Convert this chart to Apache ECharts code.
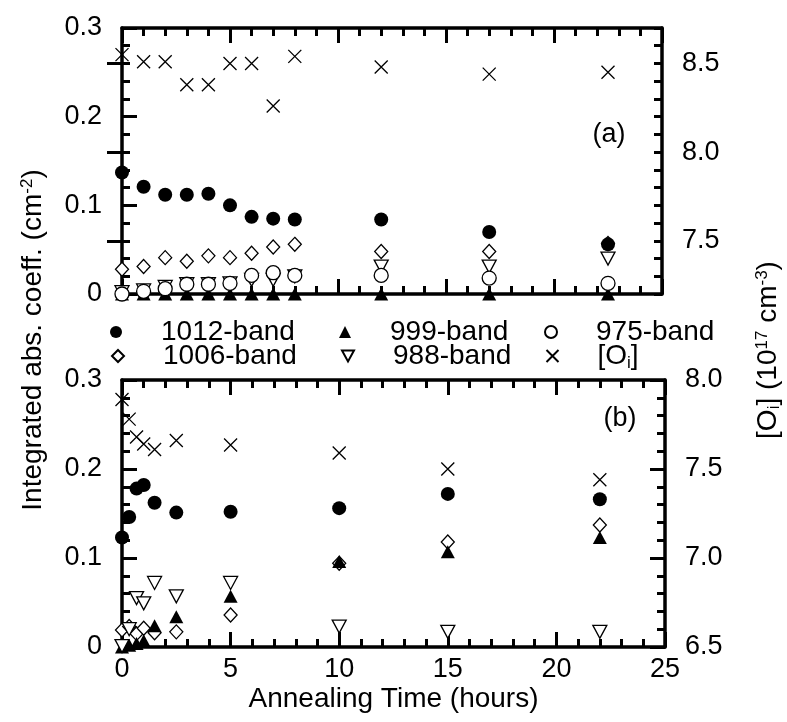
<!DOCTYPE html>
<html>
<head>
<meta charset="utf-8">
<script src="https://cdn.jsdelivr.net/npm/echarts@6/dist/echarts.min.js"></script>
<style>
  html, body { margin: 0; padding: 0; background: #fff; }
  #chart { width: 787px; height: 722px; }
</style>
</head>
<body>
<div id="chart"></div>
<script>
// panel (a): annealing times and values
const hoursA = [0, 1, 2, 3, 4, 5, 6, 7, 8, 12, 17, 22.5];
const band1012A = [0.137, 0.121, 0.112, 0.112, 0.113, 0.100, 0.087, 0.085, 0.084, 0.084, 0.070, 0.056];
const band1006A = [0.028, 0.031, 0.041, 0.037, 0.043, 0.041, 0.046, 0.053, 0.056, 0.048, 0.048, 0.057];
const band999A  = [0, 0, 0, 0, 0, 0, 0, 0, 0, 0, 0, 0];
const band988A  = [0.002, 0.004, 0.008, 0.011, 0.011, 0.012, 0.016, 0.016, 0.020, 0.031, 0.031, 0.040];
const band975A  = [0.000, 0.003, 0.006, 0.011, 0.011, 0.012, 0.021, 0.024, 0.021, 0.021, 0.018, 0.012];
const oiA       = [8.55, 8.51, 8.51, 8.38, 8.38, 8.50, 8.50, 8.26, 8.54, 8.48, 8.44, 8.45];

// panel (b)
const hoursB = [0, 0.33, 0.67, 1, 1.5, 2.5, 5, 10, 15, 22];
const band1012B = [0.123, 0.146, 0.178, 0.182, 0.162, 0.151, 0.152, 0.156, 0.172, 0.166];
const band1006B = [0.019, 0.023, 0.015, 0.021, 0.016, 0.017, 0.036, 0.094, 0.118, 0.137];
const band999B  = [0.000, 0.002, 0.004, 0.007, 0.024, 0.034, 0.057, 0.096, 0.107, 0.123];
const band988B  = [0.001, 0.020, 0.055, 0.049, 0.072, 0.057, 0.072, 0.023, 0.017, 0.017];
const oiB       = [7.89, 7.78, 7.68, 7.64, 7.61, 7.66, 7.635, 7.59, 7.50, 7.44];

// tick labels
const xTicks = [0, 5, 10, 15, 20, 25];
const rightMajorA = [7.5, 8.0, 8.5];

const FONT = "'Liberation Sans', Arial, sans-serif";
const BLACK = '#000';

// marker looks, one per series name
const looks = {
    '1012-band': { symbol: 'circle', symbolSize: 14, itemStyle: { color: BLACK, opacity: 1 } },
    '1006-band': { symbol: 'diamond', symbolSize: [13, 14], itemStyle: { color: '#fff', borderColor: BLACK, borderWidth: 1.3, opacity: 1 } },
    '999-band':  { symbol: 'triangle', symbolSize: [14, 13], itemStyle: { color: BLACK, opacity: 1 } },
    '988-band':  { symbol: 'path://M0,0L12,0L6,11Z', symbolSize: [14, 13], itemStyle: { color: '#fff', borderColor: BLACK, borderWidth: 1.3, opacity: 1 } },
    '975-band':  { symbol: 'circle', symbolSize: 14, itemStyle: { color: '#fff', borderColor: BLACK, borderWidth: 1.3, opacity: 1 } },
    '[Oi]':      { symbol: 'path://M0,0L10,10M10,0L0,10', symbolSize: 13, itemStyle: { color: 'none', borderColor: BLACK, borderWidth: 1.3, opacity: 1 } }
};

function pairs(xs, ys) {
    return xs.map((x, i) => [x, ys[i]]);
}

function scatter(name, xs, ys, xIdx, yIdx) {
    let look = looks[name];
    return {
        type: 'scatter',
        name: name,
        xAxisIndex: xIdx,
        yAxisIndex: yIdx,
        symbol: look.symbol,
        symbolSize: look.symbolSize,
        itemStyle: look.itemStyle,
        clip: false,
        silent: true,
        data: pairs(xs, ys)
    };
}

let lineStyle = { color: BLACK, width: 3.5 };
let tickStyle = { color: BLACK, width: 3 };

function xAxis(gridIndex, position, showLabel) {
    return {
        type: 'value', gridIndex: gridIndex, position: position,
        min: 0, max: 25, interval: 5,
        axisLine: { show: true, onZero: false, lineStyle: lineStyle },
        axisTick: { show: true, inside: true, length: 15, lineStyle: tickStyle },
        minorTick: { show: true, splitNumber: 5, length: 8, lineStyle: tickStyle },
        splitLine: { show: false },
        axisLabel: { show: showLabel, fontSize: 27, fontFamily: FONT, color: BLACK, margin: 9,
            customValues: xTicks },
        name: showLabel ? 'Annealing Time (hours)' : '',
        nameLocation: 'middle', nameGap: 38,
        nameTextStyle: { fontSize: 28, fontFamily: FONT, color: BLACK }
    };
}

function yAxis(gridIndex, position, min, max, interval, opts) {
    let ax = {
        type: 'value', gridIndex: gridIndex, position: position,
        min: min, max: max, interval: interval,
        axisLine: { show: true, onZero: false, lineStyle: lineStyle },
        axisTick: { show: true, inside: true, length: 15, lineStyle: tickStyle },
        minorTick: { show: true, splitNumber: 5, length: 8, lineStyle: tickStyle },
        splitLine: { show: false },
        axisLabel: { show: true, fontSize: 27, fontFamily: FONT, color: BLACK, margin: 20,
            formatter: v => (v === 0 ? '0' : v.toFixed(1)) }
    };
    return Object.assign(ax, opts || {});
}

// legend entries: one small legend each
const legendNames = ['1012-band', '999-band', '975-band', '1006-band', '988-band', '[Oi]'];
const legendLeft = [105, 334, 539, 106, 336, 539];
const legendTop = [313, 313, 313, 337, 337, 337];

let legends = legendNames.map((n, i) => ({
    data: [n],
    left: legendLeft[i], top: legendTop[i],
    itemWidth: 12, itemHeight: 12,
    selectedMode: false,
    formatter: name => (name === '[Oi]' ? '{t|[O}{s|i}{t|]}' : '{t|' + name + '}'),
    textStyle: {
        color: BLACK, fontFamily: FONT, fontSize: 28, padding: [0, 0, 0, 34],
        rich: {
            t: { fontSize: 28, fontFamily: FONT, color: BLACK },
            s: { fontSize: 17, fontFamily: FONT, color: BLACK, verticalAlign: 'bottom', padding: [14, 0, 0, 0] }
        }
    }
}));

let option = {
    animation: false,
    backgroundColor: '#fff',
    textStyle: { fontFamily: FONT },
    grid: [
        { left: 122, top: 28, width: 540, height: 266 },
        { left: 122, top: 380, width: 543, height: 267 }
    ],
    xAxis: [
        xAxis(0, 'bottom', false),
        xAxis(0, 'top', false),
        xAxis(1, 'bottom', true),
        xAxis(1, 'top', false)
    ],
    yAxis: [
        yAxis(0, 'left', 0, 0.3, 0.1),
        // right side of (a): minor ticks every 0.1
        yAxis(0, 'right', 7.2, 8.7, 0.1, {
            axisTick: { show: true, inside: true, length: 8, lineStyle: tickStyle },
            minorTick: { show: false },
            axisLabel: { show: false }
        }),
        // right side of (a): major ticks + labels
        yAxis(0, 'right', 7.2, 8.7, 0.1, {
            axisLine: { show: false },
            axisTick: { show: true, inside: true, length: 15, lineStyle: tickStyle, customValues: rightMajorA },
            minorTick: { show: false },
            axisLabel: { show: true, fontSize: 27, fontFamily: FONT, color: BLACK, margin: 20,
                customValues: rightMajorA, formatter: v => v.toFixed(1) }
        }),
        yAxis(1, 'left', 0, 0.3, 0.1),
        yAxis(1, 'right', 6.5, 8.0, 0.5)
    ],
    legend: legends,
    series: [
        scatter('1006-band', hoursA, band1006A, 0, 0),
        scatter('999-band', hoursA, band999A, 0, 0),
        scatter('988-band', hoursA, band988A, 0, 0),
        scatter('975-band', hoursA, band975A, 0, 0),
        scatter('1012-band', hoursA, band1012A, 0, 0),
        scatter('[Oi]', hoursA, oiA, 0, 1),

        scatter('1006-band', hoursB, band1006B, 2, 3),
        scatter('999-band', hoursB, band999B, 2, 3),
        scatter('988-band', hoursB, band988B, 2, 3),
        scatter('1012-band', hoursB, band1012B, 2, 3),
        scatter('[Oi]', hoursB, oiB, 2, 4)
    ],
    graphic: [
        {
            type: 'text', x: 33, y: 340, rotation: Math.PI / 2,
            style: {
                text: '{n|Integrated abs. coeff. (cm}{p|-2}{n|)}',
                align: 'center', verticalAlign: 'middle',
                rich: {
                    n: { fontSize: 28, fontFamily: FONT, fill: BLACK },
                    p: { fontSize: 17, fontFamily: FONT, fill: BLACK, verticalAlign: 'top', padding: [0, 0, 12, 0] }
                }
            }
        },
        {
            type: 'text', x: 768, y: 350, rotation: Math.PI / 2,
            style: {
                text: '{n|[O}{b|i}{n|] (10}{p|17}{n| cm}{p|-3}{n|)}',
                align: 'center', verticalAlign: 'middle',
                rich: {
                    n: { fontSize: 28, fontFamily: FONT, fill: BLACK },
                    p: { fontSize: 17, fontFamily: FONT, fill: BLACK, verticalAlign: 'top', padding: [0, 0, 12, 0] },
                    b: { fontSize: 17, fontFamily: FONT, fill: BLACK, verticalAlign: 'bottom', padding: [12, 0, 0, 0] }
                }
            }
        },
        { type: 'text', x: 609, y: 135, style: { text: '(a)', fontSize: 27, fontFamily: FONT, fill: BLACK, align: 'center', verticalAlign: 'middle' } },
        { type: 'text', x: 620, y: 419, style: { text: '(b)', fontSize: 27, fontFamily: FONT, fill: BLACK, align: 'center', verticalAlign: 'middle' } }
    ]
};

let chart = echarts.init(document.getElementById('chart'), null, { renderer: 'canvas' });
chart.setOption(option);
</script>
</body>
</html>
